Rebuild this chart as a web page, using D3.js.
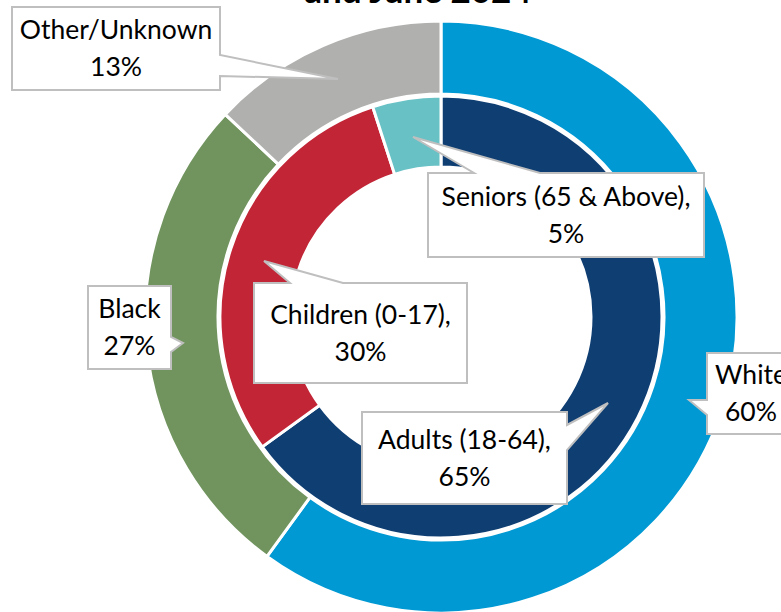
<!DOCTYPE html>
<html>
<head>
<meta charset="utf-8">
<script src="https://cdn.jsdelivr.net/npm/d3@7"></script>
<style>
  html, body { margin: 0; padding: 0; background: #fff; overflow: hidden; }
  svg { display: block; }
</style>
</head>
<body>
<svg id="chart" width="781" height="612"></svg>
<script>
// ---- data ----
const outerCategories = ["White", "Black", "Other/Unknown"];
const outerValues = [60, 27, 13];
const innerCategories = ["Adults (18-64)", "Children (0-17)", "Seniors (65 & Above)"];
const innerValues = [65, 30, 5];
const titleLines = ["and June 2024"];

// ---- style ----
const outerColors = ["#0099d3", "#71945f", "#b0b1ae"];
const innerColors = ["#0f3e73", "#c12536", "#68c1c5"];
const FONT = "Lato, 'Noto Sans', sans-serif";
const FS = 26.5;

const svg = d3.select("#chart");
const cx = 441, cy = 317;

// title (only the last line is visible in the frame)
svg.append("g").selectAll("text").data(titleLines).join("text")
  .attr("x", 418).attr("y", (d, i) => 3 - (titleLines.length - 1 - i) * 40)
  .attr("text-anchor", "middle")
  .attr("font-family", FONT).attr("font-weight", 700).attr("font-size", 35)
  .attr("fill", "#000").text(d => d);

const pie = d3.pie().sort(null).value(d => d.v);
const g = svg.append("g").attr("transform", `translate(${cx},${cy})`);

const outerData = pie(outerCategories.map((c, i) => ({c, v: outerValues[i], col: outerColors[i]})));
const innerData = pie(innerCategories.map((c, i) => ({c, v: innerValues[i], col: innerColors[i]})));

const outerArc = d3.arc().innerRadius(223).outerRadius(296);
const innerArc = d3.arc().innerRadius(150).outerRadius(221);

g.selectAll("path.o").data(outerData).join("path").attr("class", "o")
  .attr("d", outerArc).attr("fill", d => d.data.col)
  .attr("stroke", "#fff").attr("stroke-width", 3).attr("stroke-linejoin", "round");
g.selectAll("path.i").data(innerData).join("path").attr("class", "i")
  .attr("d", innerArc).attr("fill", d => d.data.col)
  .attr("stroke", "#fff").attr("stroke-width", 3).attr("stroke-linejoin", "round");

// ---- callouts (layout relative to chart center) ----
// box: [x0,y0,x1,y1]; edge: side the wedge leaves from; base: two positions along that edge; tip: wedge tip
const callouts = [
  {ring: "outer", idx: 2, box: [-429, -310, -221, -227], edge: "right", base: [-262, -241], tip: [-103, -238]},
  {ring: "inner", idx: 2, box: [-13, -144, 263, -60], edge: "top", base: [33, 99], tip: [-28, -180]},
  {ring: "inner", idx: 1, box: [-187, -34, 26, 66], edge: "top", base: [-151, -98], tip: [-177, -56]},
  {ring: "outer", idx: 1, box: [-353, -31, -270, 52], edge: "right", base: [20, 35], tip: [-258, 26]},
  {ring: "inner", idx: 0, box: [-79, 95, 126, 187], edge: "right", base: [108, 133], tip: [167, 86]},
  {ring: "outer", idx: 0, box: [266, 36, 354, 117], edge: "left", base: [83, 98], tip: [248, 83]}
];

function calloutPath(c) {
  const [x0, y0, x1, y1] = c.box;
  const t = c.tip, b = c.base;
  let pts;
  if (c.edge === "top") {
    pts = [[x0, y0], [b[0], y0], t, [b[1], y0], [x1, y0], [x1, y1], [x0, y1]];
  } else if (c.edge === "right") {
    pts = [[x0, y0], [x1, y0], [x1, b[0]], t, [x1, b[1]], [x1, y1], [x0, y1]];
  } else {
    pts = [[x0, y0], [x1, y0], [x1, y1], [x0, y1], [x0, b[1]], t, [x0, b[0]]];
  }
  return d3.line()(pts) + "Z";
}

const lab = svg.append("g").attr("transform", `translate(${cx},${cy})`);
callouts.forEach(c => {
  const data = c.ring === "outer" ? outerData : innerData;
  const d = data[c.idx];
  const total = d3.sum(c.ring === "outer" ? outerValues : innerValues);
  const pct = Math.round(d.data.v / total * 100) + "%";
  const lines = c.ring === "outer" ? [d.data.c, pct] : [d.data.c + ",", pct];
  lab.append("path").attr("d", calloutPath(c))
    .attr("fill", "#fff").attr("stroke", "#bfbfbf").attr("stroke-width", 2);
  const mx = (c.box[0] + c.box[2]) / 2;
  const my = (c.box[1] + c.box[3]) / 2;
  lines.forEach((l, i) => {
    lab.append("text").attr("x", mx).attr("y", my + (i - 0.5) * 37 + 9)
      .attr("text-anchor", "middle").attr("font-family", FONT).attr("font-size", FS)
      .attr("fill", "#000").text(l);
  });
});
</script>
</body>
</html>
